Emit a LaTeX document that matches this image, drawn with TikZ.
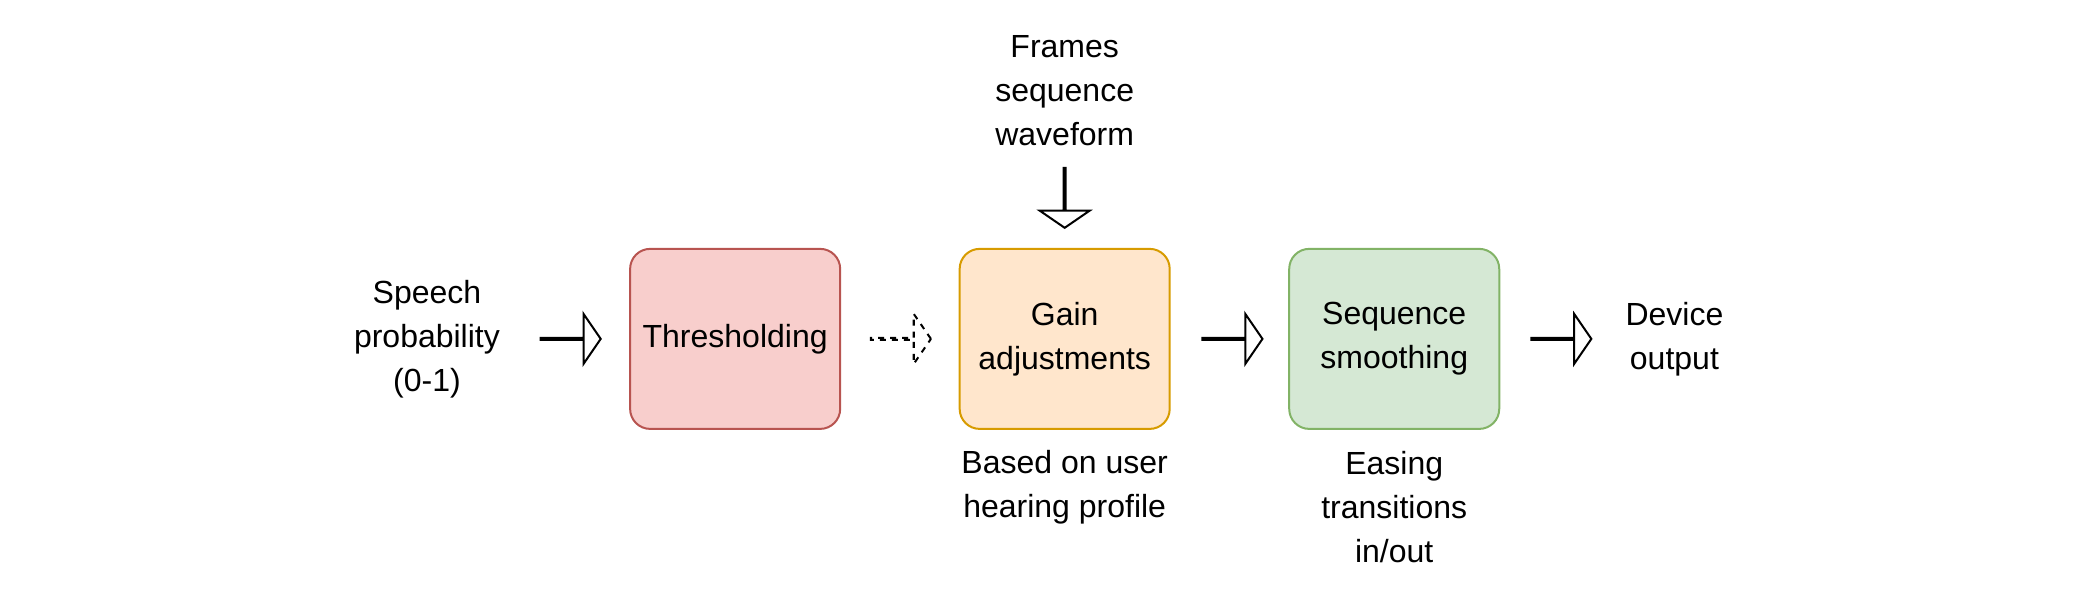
\documentclass[tikz,border=0pt]{standalone}
\usepackage{fontspec}
\setmainfont{Liberation Sans}
\usetikzlibrary{shapes.arrows}
\definecolor{redfill}{HTML}{F8CECC}\definecolor{redline}{HTML}{B85450}
\definecolor{orafill}{HTML}{FFE6CC}\definecolor{oraline}{HTML}{D79B00}
\definecolor{grnfill}{HTML}{D5E8D4}\definecolor{grnline}{HTML}{82B366}
\tikzstyle{block}=[rectangle,rounded corners=10pt,line width=1pt,minimum width=105pt,minimum height=90pt,align=center,inner sep=0pt]
\tikzstyle{label}=[align=center,font=\fontsize{16}{22}\selectfont]
\tikzstyle{flow}=[single arrow,draw,line width=1pt,inner sep=0pt,minimum width=19pt,single arrow head extend=12pt,single arrow tip angle=111,minimum height=30pt]
\begin{document}
\begin{tikzpicture}[x=0.667pt,y=-0.667pt]
		\useasboundingbox (0,0) rectangle (1568,447);
		\node [block,fill=redfill,draw=redline,label] (thresh) at (551,254) {Thresholding};
		\node [block,fill=orafill,draw=oraline,label] (gain)   at (798,254) {Gain\\adjustments};
		\node [block,fill=grnfill,draw=grnline,label] (smooth) at (1045,254) {Sequence\\smoothing};
		\node [label] (prob)   at (320,254) {Speech\\probability\\(0-1)};
		\node [label] (output) at (1255,254) {Device\\output};
		\node [label] (frames) at (798,68)  {Frames\\sequence\\waveform};
		\node [label] (user)   at (798,365) {Based on user\\hearing profile};
		\node [label] (easing) at (1045,380) {Easing\\transitions\\in/out};

		\node [flow] (a1) at (427.5,254) {};
		\node [flow,dashed] (a2) at (675,254) {};
		\node [flow] (a3) at (923.5,254) {};
		\node [flow] (a4) at (1170,254) {};
		\node [flow,rotate=-90] (a5) at (798,148) {};
	\end{tikzpicture}
\end{document}
